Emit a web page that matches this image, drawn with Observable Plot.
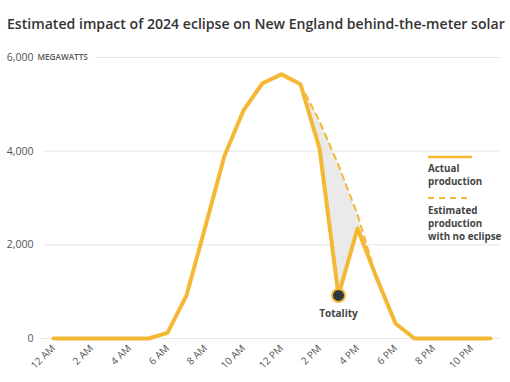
<!DOCTYPE html>
<html>
<head>
<meta charset="utf-8">
<script src="https://cdn.jsdelivr.net/npm/d3@7"></script>
<script src="https://cdn.jsdelivr.net/npm/@observablehq/plot@0.6"></script>
<style>
  body { margin: 0; background: #fff; font-family: "Open Sans", sans-serif; width: 510px; height: 382px; overflow: hidden; position: relative; }
  #title { height: 44px; box-sizing: border-box; padding: 14px 0 0 7px; font-size: 14.1px; font-weight: 600; color: #333; white-space: nowrap; }
  #legend { position: absolute; left: 428px; top: 152px; font-size: 9.8px; font-weight: 700; color: #444; line-height: 13px; }
  #legend .item { margin-bottom: 4px; }
  #legend svg { display: block; }
</style>
</head>
<body>
<div id="title">Estimated impact of 2024 eclipse on New England behind-the-meter solar</div>
<div id="chart"></div>
<div id="legend">
  <svg width="46" height="10"><line x1="0" x2="44" y1="5" y2="5" stroke="#f5b835" stroke-width="2.5"/></svg>
  <div class="item">Actual<br>production</div>
  <svg width="46" height="12" style="margin-top:3px"><line x1="0" x2="44" y1="6" y2="6" stroke="#f5b835" stroke-width="2" stroke-dasharray="6,5"/></svg>
  <div class="item">Estimated<br>production<br>with no eclipse</div>
</div>
<script>
// Hour of day (0 = 12 AM)
const hours = [0,1,2,3,4,5,6,7,8,9,10,11,12,13,14,15,16,17,18,19,20,21,22,23];
// Actual behind-the-meter solar production, MW
const actual = [0,0,0,0,0,0,120,920,2400,3900,4870,5450,5640,5430,4060,920,2350,1300,320,0,0,0,0,0];
// Estimated production with no eclipse (1 PM - 5 PM)
const estHours = [13,14,15,16,17];
const estimate = [5430,4640,3700,2650,1300];
const yTicks = [0,2000,4000,6000];
const xTicks = [0,2,4,6,8,10,12,14,16,18,20,22];
const xTickLabels = ["12 AM","2 AM","4 AM","6 AM","8 AM","10 AM","12 PM","2 PM","4 PM","6 PM","8 PM","10 PM"];
const totalityHour = 15;
const totalityValue = 920;

const actualData = hours.map((h, i) => ({h, v: actual[i]}));
const estData = estHours.map((h, i) => ({h, v: estimate[i], a: actual[hours.indexOf(h)]}));

const color = "#f5b835";

const plot = Plot.plot({
  width: 510,
  height: 338,
  marginTop: 13,
  marginBottom: 44,
  marginLeft: 53,
  marginRight: 20,
  style: {fontFamily: "Open Sans, sans-serif", background: "transparent", overflow: "visible"},
  x: {domain: [0, 23]},
  y: {domain: [0, 6000]},
  marks: [
    Plot.ruleY(yTicks.filter(d => d > 0 && d < 6000), {y: d => d, x1: -0.5, x2: 23.5, stroke: "#e6e6e6", strokeWidth: 1}),
    Plot.ruleY([6000], {y: d => d, x1: 2.2, x2: 23.5, stroke: "#e6e6e6", strokeWidth: 1}),
    Plot.ruleY([0], {y: d => d, x1: -0.7, x2: 23.5, stroke: "#e6e6e6", strokeWidth: 1}),
    Plot.axisY({ticks: yTicks, tickSize: 0, tickPadding: 20, tickFormat: d3.format(","), fontSize: 10.5, fill: "#555", label: null}),
    Plot.text([6000], {y: d => d, frameAnchor: "left", dx: -16, text: () => "MEGAWATTS", textAnchor: "start", fontSize: 8.2, fontWeight: 600, fill: "#555"}),
    Plot.axisX({ticks: xTicks, tickFormat: (d, i) => xTickLabels[xTicks.indexOf(d)], tickRotate: -45, tickSize: 0, tickPadding: 8, fontSize: 10, fill: "#555", label: null}),
    Plot.areaY(estData, {x: "h", y1: "a", y2: "v", fill: "#e8e8e8", fillOpacity: 0.9}),
    Plot.line(estData, {x: "h", y: "v", stroke: color, strokeWidth: 2, strokeDasharray: "6,5"}),
    Plot.line(actualData, {x: "h", y: "v", stroke: color, strokeWidth: 4, strokeLinejoin: "round"}),
    Plot.dot([{h: totalityHour, v: totalityValue}], {x: "h", y: "v", r: 6.5, fill: "#2c3a42", stroke: color, strokeWidth: 2}),
    Plot.text([{h: totalityHour, v: totalityValue}], {x: "h", y: "v", text: () => "Totality", dy: 18, fontSize: 10, fontWeight: 700, fill: "#444"})
  ]
});
document.getElementById("chart").appendChild(plot);
</script>
</body>
</html>
